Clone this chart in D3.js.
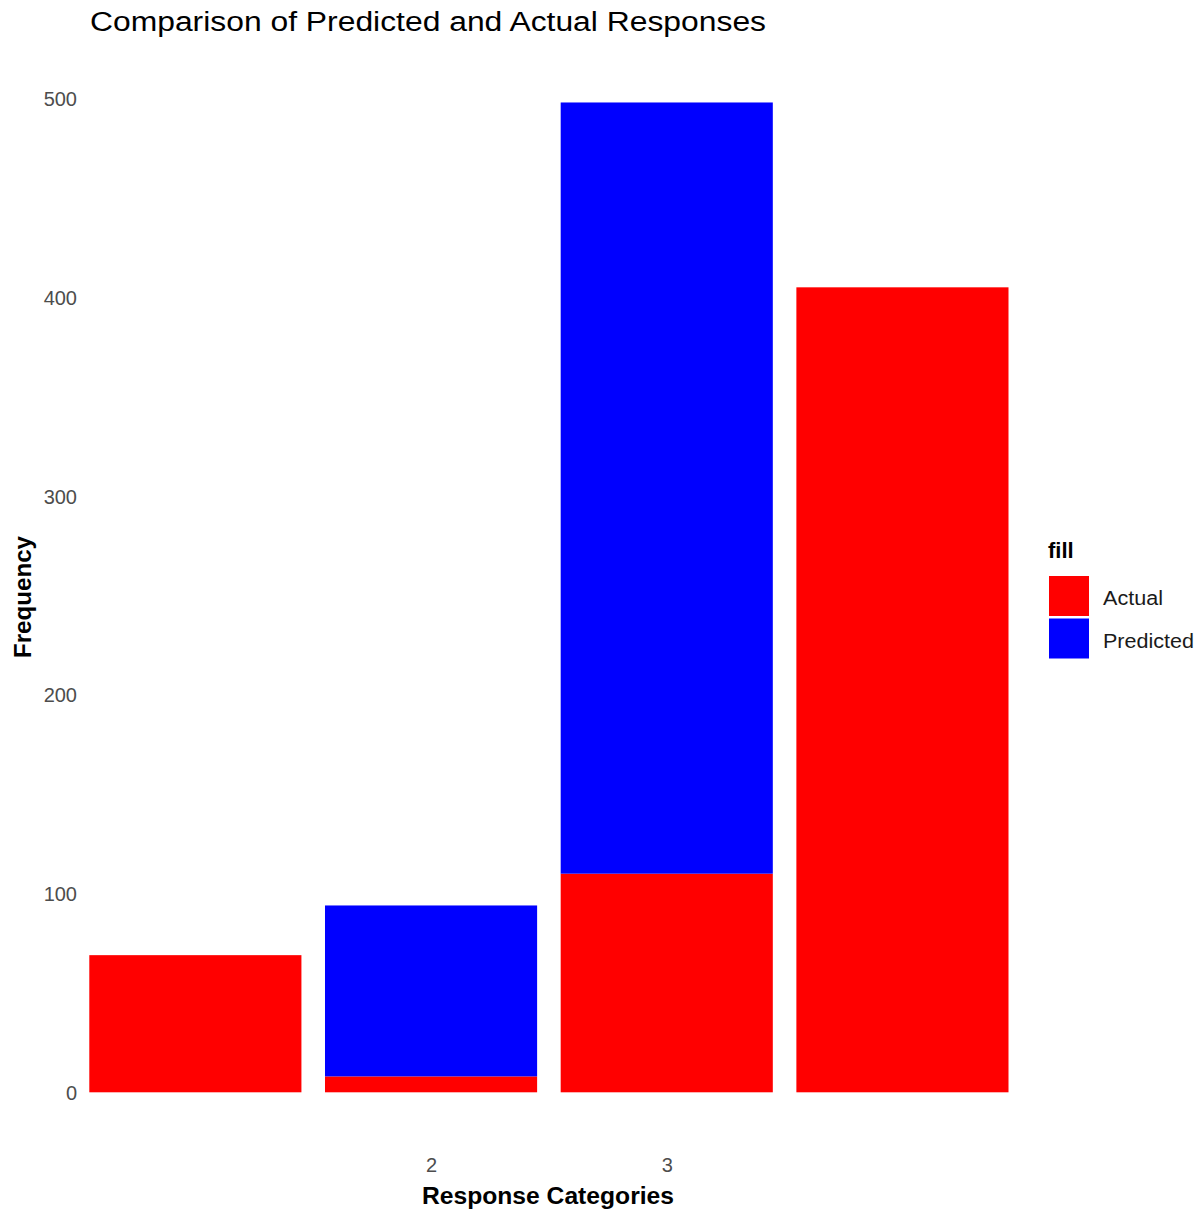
<!DOCTYPE html>
<html><head><meta charset="utf-8">
<script src="https://cdn.jsdelivr.net/npm/d3@7"></script>
<style>body{margin:0;background:#fff}svg{display:block}text{font-family:"Liberation Sans",Arial,sans-serif}</style>
</head><body>
<script>
const categories = [1, 2, 3, 4];
const actual = [69, 8, 110, 405];
const predicted = [0, 86, 388, 0];
const seriesNames = ["Actual", "Predicted"];
const seriesColors = ["#FF0000", "#0000FF"];
const yTicks = [0, 100, 200, 300, 400, 500];
const xTicks = [2, 3];

const W = 1202, H = 1214;
const svg = d3.select("body").append("svg").attr("width", W).attr("height", H);

const x = d3.scaleLinear().domain([0.55, 4.45]).range([89.3, 1008.5]);
const y = d3.scaleLinear().domain([0, 500]).range([1092.3, 98.5]);
const bw = x(1.45) - x(0.55);

const rows = categories.map((c, i) => ({cat: c, Actual: actual[i], Predicted: predicted[i]}));
const stacked = d3.stack().keys(seriesNames)(rows);
const color = d3.scaleOrdinal().domain(seriesNames).range(seriesColors);

svg.append("g").selectAll("g").data(stacked).join("g")
  .attr("fill", d => color(d.key))
  .selectAll("rect").data(d => d.filter(p => p[1] > p[0])).join("rect")
  .attr("x", d => x(d.data.cat) - bw / 2)
  .attr("width", bw)
  .attr("y", d => y(d[1]))
  .attr("height", d => y(d[0]) - y(d[1]));

// y axis
const yAxis = d3.axisLeft(y).tickValues(yTicks).tickSize(0).tickPadding(0);
const gy = svg.append("g").attr("transform", "translate(77,0)").call(yAxis);
gy.select(".domain").remove();
gy.selectAll("text").attr("fill", "#4d4d4d").style("font-size", "20px").attr("dy", "0.36em")
  .style("font-family", '"Liberation Sans",Arial,sans-serif');

// x axis
const xAxis = d3.axisBottom(x).tickValues(xTicks).tickSize(0).tickPadding(0).tickFormat(d3.format("d"));
const gx = svg.append("g").attr("transform", "translate(0,1158)").call(xAxis);
gx.select(".domain").remove();
gx.selectAll("text").attr("fill", "#4d4d4d").style("font-size", "20px").attr("dy", "0.71em")
  .style("font-family", '"Liberation Sans",Arial,sans-serif');

// titles
svg.append("text").attr("x", 90).attr("y", 31).attr("fill", "#000")
  .style("font-size", "27px").attr("textLength", 676).attr("lengthAdjust", "spacingAndGlyphs")
  .text("Comparison of Predicted and Actual Responses");
svg.append("text").attr("x", 422).attr("y", 1204)
  .style("font-size", "23px").style("font-weight", "bold")
  .attr("textLength", 252).attr("lengthAdjust", "spacingAndGlyphs").text("Response Categories");
svg.append("text").attr("transform", "translate(31,658) rotate(-90)")
  .style("font-size", "23px").style("font-weight", "bold")
  .attr("textLength", 122).attr("lengthAdjust", "spacingAndGlyphs").text("Frequency");

// legend
const legendLen = [60, 91];
const lg = svg.append("g");
lg.append("text").attr("x", 1048).attr("y", 558).style("font-size", "22px").style("font-weight", "bold").text("fill");
seriesNames.forEach((s, i) => {
  lg.append("rect").attr("x", 1049).attr("y", 576 + i * 42.5).attr("width", 40).attr("height", 40).attr("fill", color(s));
  lg.append("text").attr("x", 1103).attr("y", 598 + i * 42.5).attr("dy", "0.36em").style("font-size", "20px")
    .attr("fill", "#1a1a1a").attr("textLength", legendLen[i]).attr("lengthAdjust", "spacingAndGlyphs").text(s);
});
</script>
</body></html>
